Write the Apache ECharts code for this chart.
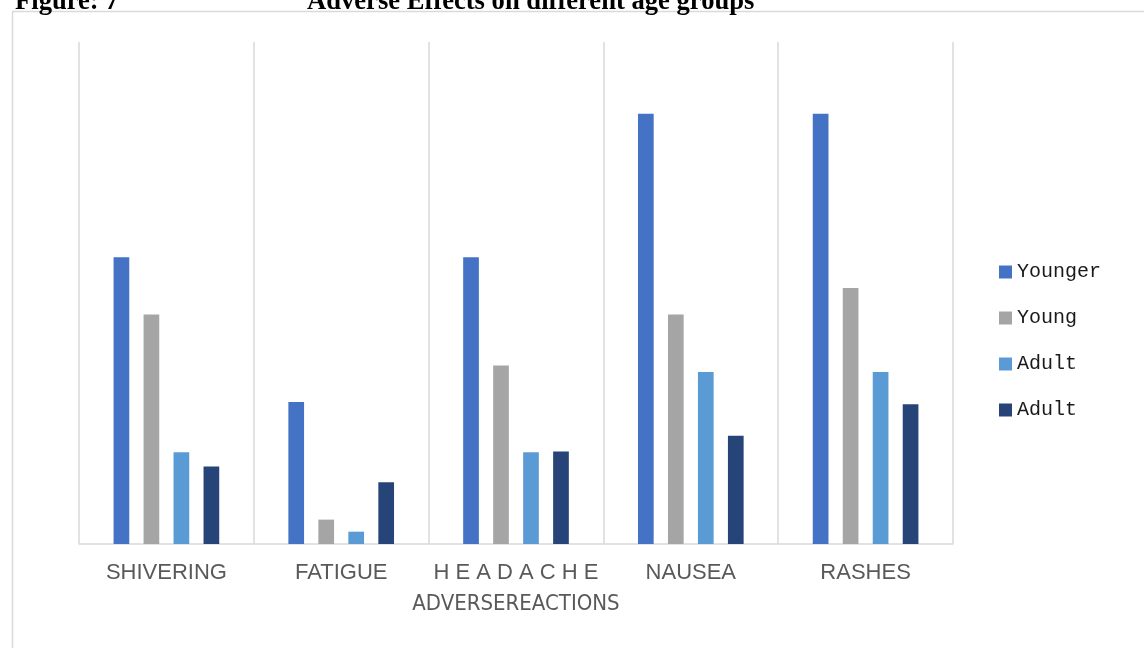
<!DOCTYPE html>
<html><head><meta charset="utf-8">
<script src="https://cdn.jsdelivr.net/npm/echarts@6/dist/echarts.min.js"></script>
<style>html,body{margin:0;padding:0;background:#fff;overflow:hidden}#c{width:1144px;height:648px}</style>
</head><body><div id="c"></div>
<script>
const categories = ['SHIVERING', 'FATIGUE', 'H E A D A C H E', 'NAUSEA', 'RASHES'];
const younger = [20.0, 9.9, 20.0, 30.0, 30.0];
const young = [16.0, 1.7, 12.45, 16.0, 17.85];
const adult = [6.4, 0.86, 6.4, 12.0, 12.0];
const adult2 = [5.4, 4.3, 6.45, 7.55, 9.75];
const seriesNames = ['Younger', 'Young', 'Adult', 'Adult '];
const seriesData = [younger, young, adult, adult2];
const colors = ['#4472C4', '#A5A5A5', '#5B9BD5', '#264478'];

const chart = echarts.init(document.getElementById('c'), null, {renderer: 'canvas'});
chart.setOption({
  animation: false,
  backgroundColor: '#ffffff',
  title: [
    {text: 'Figure: 7', left: 10, top: -16,
     textStyle: {fontFamily: 'Liberation Serif', fontWeight: 'bold', fontSize: 26.6, color: '#000'}},
    {text: 'Adverse Effects on different age groups', left: 302, top: -16,
     textStyle: {fontFamily: 'Liberation Serif', fontWeight: 'bold', fontSize: 26.6, color: '#000'}}
  ],
  graphic: [{
    type: 'rect', silent: true, z: -1,
    shape: {x: 12.5, y: 11.5, width: 1140, height: 660},
    style: {fill: 'none', stroke: '#D9D9D9', lineWidth: 1.5}
  }],
  legend: {
    orient: 'vertical',
    left: 994,
    top: 257,
    itemWidth: 13,
    itemHeight: 13,
    itemGap: 26,
    icon: 'rect',
    formatter: n => n.trim(),
    textStyle: {fontFamily: 'Liberation Mono', fontSize: 20, lineHeight: 20, color: '#1a1a1a'},
    data: seriesNames
  },
  grid: {left: 79, right: 191, top: 42, bottom: 104, containLabel: false},
  xAxis: {
    type: 'category',
    data: categories,
    axisLine: {show: true, lineStyle: {color: '#D9D9D9', width: 1.5}},
    axisTick: {show: false},
    splitLine: {show: true, interval: 0, lineStyle: {color: '#D9D9D9', width: 1.5}},
    axisLabel: {interval: 0, margin: 18, color: '#595959', fontFamily: 'Liberation Sans', fontSize: 22},
    name: 'ADVERSEREACTIONS',
    nameLocation: 'middle',
    nameGap: 49,
    nameTextStyle: {fontFamily: 'DejaVu Sans Condensed', fontSize: 22, color: '#595959'}
  },
  yAxis: {type: 'value', min: 0, max: 35, show: false, splitLine: {show: false}},
  series: seriesNames.map((n, i) => ({
    name: n,
    type: 'bar',
    data: seriesData[i],
    barWidth: 15.7,
    barGap: '91%',
    itemStyle: {color: colors[i]}
  }))
});
</script></body></html>
